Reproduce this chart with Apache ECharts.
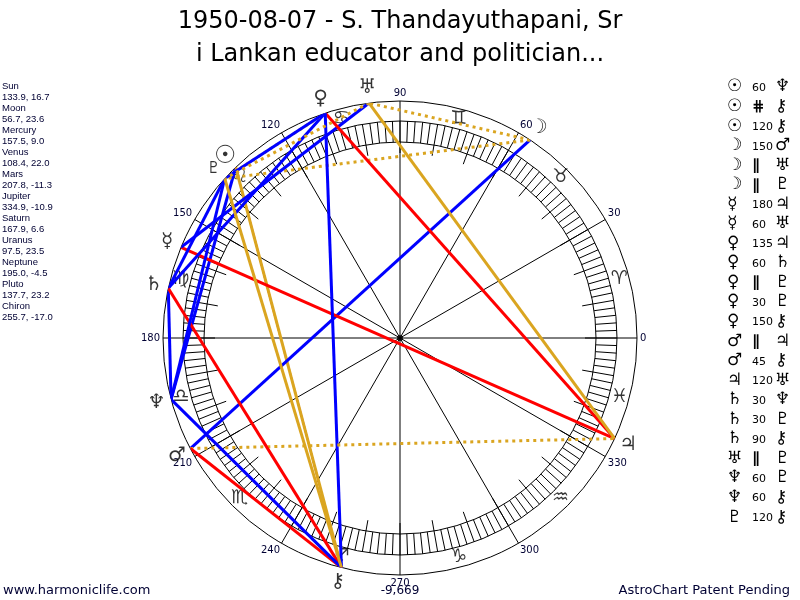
<!DOCTYPE html>
<html>
<head>
<meta charset="utf-8">
<script src="https://cdn.jsdelivr.net/npm/echarts@6/dist/echarts.min.js"></script>
<style>
html, body { margin: 0; padding: 0; background: #fff; }
#chart { width: 800px; height: 600px; }
</style>
</head>
<body>
<div id="chart"></div>
<script>
// planet positions: longitude, declination
var planetNames = ["Sun", "Moon", "Mercury", "Venus", "Mars", "Jupiter", "Saturn", "Uranus", "Neptune", "Pluto", "Chiron"];
var planetGlyphs = ["\u2609", "\u263D", "\u263F", "\u2640", "\u2642", "\u2643", "\u2644", "\u2645", "\u2646", "\u2647", "\u26B7"];
var planetLon = [133.9, 56.7, 157.5, 108.4, 207.8, 334.9, 167.9, 97.5, 195.0, 137.7, 255.7];
var planetDecl = [16.7, 23.6, 9.0, 22.0, -11.3, -10.9, 6.6, 23.5, -4.5, 23.2, -17.0];

// zodiac signs and the middle of each sign
var signGlyphs = ["\u2648", "\u2649", "\u264A", "\u264B", "\u264C", "\u264D", "\u264E", "\u264F", "\u2650", "\u2651", "\u2652", "\u2653"];
var signMid = [15, 45, 75, 105, 135, 165, 195, 225, 255, 285, 315, 345];

// aspects: first planet, aspect, second planet
var aspectFrom = ["Sun", "Sun", "Sun", "Moon", "Moon", "Moon", "Mercury", "Mercury", "Venus", "Venus", "Venus", "Venus",
    "Venus", "Mars", "Mars", "Jupiter", "Saturn", "Saturn", "Saturn", "Uranus", "Neptune", "Neptune", "Pluto"];
var aspectKind = ["60", "#", "120", "150", "||", "||", "180", "60", "135", "60", "||", "30",
    "150", "||", "45", "120", "30", "30", "90", "||", "60", "60", "120"];
var aspectTo = ["Neptune", "Chiron", "Chiron", "Mars", "Uranus", "Pluto", "Jupiter", "Uranus", "Jupiter", "Saturn", "Pluto", "Pluto",
    "Chiron", "Jupiter", "Chiron", "Uranus", "Neptune", "Pluto", "Chiron", "Pluto", "Pluto", "Chiron", "Chiron"];

var CX = 400, CY = 338;
var R_OUT = 237, R_RING = 217, R_IN = 196, R_SIGN = 227, R_GLYPH = 252, R_WIDE = 280;

// line look for each kind of aspect
function aspectStyle(kind) {
    if (kind == "60" || kind == "30" || kind == "150") return { color: "#0000ff", width: 3, type: "solid" };
    if (kind == "120") return { color: "#daa520", width: 3, type: "solid" };
    if (kind == "||") return { color: "#daa520", width: 3, type: [3, 4] };
    if (kind == "#") return { color: "#ff0000", width: 2, type: [2, 2] };
    return { color: "#ff0000", width: 3, type: "solid" };
}

function aspectText(kind) {
    if (kind == "||") return "\u2225";
    if (kind == "#") return "\u22D5";
    return kind;
}

function lonOf(name) {
    return planetLon[planetNames.indexOf(name)];
}

var series = [];
for (let i = 0; i < aspectKind.length; i++) {
    series.push({
        type: "line",
        coordinateSystem: "polar",
        polarIndex: 0,
        symbol: "none",
        silent: true,
        z: 3,
        lineStyle: aspectStyle(aspectKind[i]),
        data: [[R_OUT, lonOf(aspectFrom[i])], [R_OUT, lonOf(aspectTo[i])]]
    });
}

// planet glyphs round the wheel (on a wider, invisible polar)
series.push({
    type: "scatter",
    coordinateSystem: "polar",
    polarIndex: 3,
    symbolSize: 1,
    itemStyle: { color: "rgba(0,0,0,0)" },
    z: 4,
    label: {
        show: true, position: "inside", color: "#000",
        fontSize: 20, fontFamily: "DejaVu Sans",
        formatter: function (p) { return planetGlyphs[p.dataIndex]; }
    },
    data: planetLon.map(function (lon, i) {
        var d = { value: [R_GLYPH, lon] };
        if (i == 0) d.label = { fontSize: 25, fontWeight: "bold" };
        if (i == 9) d.label = { fontSize: 16 };
        return d;
    })
});

// zodiac signs between ring and outer circle
series.push({
    type: "scatter",
    coordinateSystem: "polar",
    polarIndex: 0,
    symbolSize: 1,
    itemStyle: { color: "rgba(0,0,0,0)" },
    z: 2,
    label: {
        show: true, position: "inside", color: "#000",
        fontSize: 19, fontFamily: "DejaVu Sans",
        formatter: function (p) { return signGlyphs[p.dataIndex] + "\uFE0E"; }
    },
    data: signMid.map(function (a) { return [R_SIGN, a]; })
});

// centre dot
series.push({
    type: "scatter",
    coordinateSystem: "polar",
    polarIndex: 0,
    symbolSize: 6,
    itemStyle: { color: "#000" },
    z: 5,
    data: [[0, 0]]
});

var hidden = { show: false };
function angle(idx, interval, extra) {
    var ax = {
        polarIndex: idx, type: "value", min: 0, max: 360, interval: interval,
        startAngle: 0, clockwise: false,
        axisLine: { show: true, lineStyle: { color: "#000", width: 1 } },
        axisTick: hidden, axisLabel: hidden, splitLine: hidden
    };
    for (var k in extra) ax[k] = extra[k];
    return ax;
}
function radius(idx, max) {
    return { polarIndex: idx, type: "value", min: 0, max: max, show: false,
        axisLine: hidden, axisTick: hidden, axisLabel: hidden, splitLine: hidden };
}

// planet list on the left
var leftLines = [];
for (let i = 0; i < planetNames.length; i++) {
    leftLines.push(planetNames[i]);
    leftLines.push(planetLon[i].toFixed(1) + ", " + planetDecl[i].toFixed(1));
}

var graphics = [{
    type: "text", left: 2, top: 81,
    style: { text: leftLines.join("\n"), fontSize: 9.5, lineHeight: 11, fontFamily: "Liberation Sans", fill: "#000033" }
}];

// aspect list on the right
for (let i = 0; i < aspectKind.length; i++) {
    var y = 87 + i * 19.55;
    var g1 = planetGlyphs[planetNames.indexOf(aspectFrom[i])];
    var g2 = planetGlyphs[planetNames.indexOf(aspectTo[i])];
    var isNum = !isNaN(aspectKind[i]);
    graphics.push({ type: "text", x: 727, y: y, style: { text: g1, fontSize: 17, fontWeight: aspectFrom[i] == "Sun" ? "bold" : "normal", fontFamily: "DejaVu Sans", fill: "#000", verticalAlign: "middle" } });
    graphics.push({ type: "text", x: 752, y: y + 1, style: { text: aspectText(aspectKind[i]), fontSize: isNum ? 11 : 15, fontWeight: isNum ? "normal" : "bold", fontFamily: "DejaVu Sans", fill: "#000", verticalAlign: "middle" } });
    graphics.push({ type: "text", x: 775, y: y, style: { text: g2, fontSize: 17, fontFamily: "DejaVu Sans", fill: "#000", verticalAlign: "middle" } });
}

graphics.push({ type: "text", x: 3, y: 591, style: { text: "www.harmoniclife.com", fontSize: 13, fontFamily: "DejaVu Sans", fill: "#000033", verticalAlign: "middle" } });
graphics.push({ type: "text", x: 790, y: 591, style: { text: "AstroChart Patent Pending", fontSize: 13, fontFamily: "DejaVu Sans", fill: "#000033", align: "right", verticalAlign: "middle" } });
graphics.push({ type: "text", x: 400, y: 591, style: { text: "-9,669", fontSize: 12, fontFamily: "DejaVu Sans", fill: "#000033", align: "center", verticalAlign: "middle" } });

var myChart = echarts.init(document.getElementById("chart"), null, { renderer: "canvas" });
var option = {
    animation: false,
    backgroundColor: "#fff",
    title: {
        text: "1950-08-07 - S. Thandayuthapani, Sr\ni Lankan educator and politician...",
        left: "center", top: 0,
        textStyle: { fontSize: 24, fontWeight: "normal", color: "#000", fontFamily: "DejaVu Sans", lineHeight: 33 }
    },
    polar: [
        { center: [CX, CY], radius: R_OUT },
        { center: [CX, CY], radius: R_RING },
        { center: [CX, CY], radius: R_IN },
        { center: [CX, CY], radius: R_WIDE }
    ],
    angleAxis: [
        angle(0, 30, {
            axisLabel: {
                show: true, margin: 3, fontSize: 10, color: "#000033", fontFamily: "DejaVu Sans",
                formatter: function (v) { return v == 360 ? "" : String(v); }
            },
            splitLine: { show: true, lineStyle: { color: "#000", width: 1 } }
        }),
        angle(1, 2, { axisTick: { show: true, inside: true, length: R_RING - R_IN, lineStyle: { color: "#000", width: 1 } } }),
        angle(2, 10, { axisTick: { show: true, inside: true, length: 11, lineStyle: { color: "#000", width: 1 } } }),
        angle(3, 30, { axisLine: hidden })
    ],
    radiusAxis: [radius(0, R_OUT), radius(1, R_RING), radius(2, R_IN), radius(3, R_WIDE)],
    graphic: graphics,
    series: series
};
myChart.setOption(option);
</script>
</body>
</html>
